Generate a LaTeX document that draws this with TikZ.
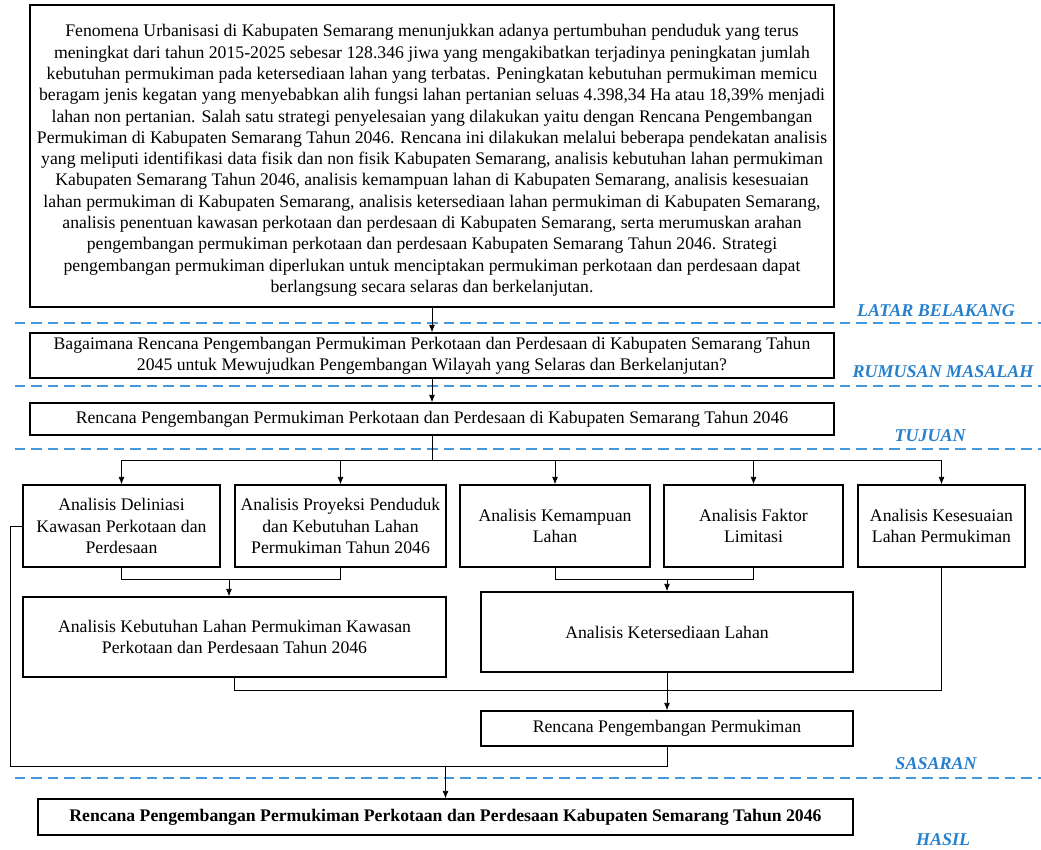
\documentclass[tikz,border=0pt]{standalone}
\usepackage{fontspec}
\setmainfont{Liberation Serif}
\usetikzlibrary{arrows.meta}
\definecolor{sepblue}{RGB}{70,152,222}
\definecolor{labelblue}{RGB}{38,128,205}
\def\px{0.6667pt}
\tikzset{
  box/.style={draw, line width=0.9pt, align=center, inner sep=0pt,
    font=\fontsize{11.8}{14.2}\selectfont},
  conn/.style={line width=0.6pt},
  arr/.style={conn, -{Latex[length=5pt,width=4pt]}},
  sepline/.style={sepblue, line width=1pt, dash pattern=on 7pt off 4pt},
  lbl/.style={text=labelblue, font=\fontsize{12}{14}\selectfont\bfseries\itshape}
}
\begin{document}
\begin{tikzpicture}[x=0.6667pt, y=-0.6667pt]
\useasboundingbox (0,0) rectangle (1041,849);
% boxes
\node[box, minimum width={804*\px}, minimum height={302*\px}] (latar) at (432,156) {%
\rule{0pt}{14pt}Fenomena Urbanisasi di Kabupaten Semarang menunjukkan adanya pertumbuhan penduduk yang terus\\
meningkat dari tahun 2015-2025 sebesar 128.346 jiwa yang mengakibatkan terjadinya peningkatan jumlah\\
kebutuhan permukiman pada ketersediaan lahan yang terbatas. Peningkatan kebutuhan permukiman memicu\\
beragam jenis kegatan yang menyebabkan alih fungsi lahan pertanian seluas 4.398,34 Ha atau 18,39\% menjadi\\
lahan non pertanian. Salah satu strategi penyelesaian yang dilakukan yaitu dengan Rencana Pengembangan\\
Permukiman di Kabupaten Semarang Tahun 2046. Rencana ini dilakukan melalui beberapa pendekatan analisis\\
yang meliputi identifikasi data fisik dan non fisik Kabupaten Semarang, analisis kebutuhan lahan permukiman\\
Kabupaten Semarang Tahun 2046, analisis kemampuan lahan di Kabupaten Semarang, analisis kesesuaian\\
lahan permukiman di Kabupaten Semarang, analisis ketersediaan lahan permukiman di Kabupaten Semarang,\\
analisis penentuan kawasan perkotaan dan perdesaan di Kabupaten Semarang, serta merumuskan arahan\\
pengembangan permukiman perkotaan dan perdesaan Kabupaten Semarang Tahun 2046. Strategi\\
pengembangan permukiman diperlukan untuk menciptakan permukiman perkotaan dan perdesaan dapat\\
berlangsung secara selaras dan berkelanjutan.};
\node[box, minimum width={804*\px}, minimum height={45*\px}] (rumusan) at (432,355.5) {%
Bagaimana Rencana Pengembangan Permukiman Perkotaan dan Perdesaan di Kabupaten Semarang Tahun\\
2045 untuk Mewujudkan Pengembangan Wilayah yang Selaras dan Berkelanjutan?};
\node[box, minimum width={804*\px}, minimum height={32*\px}] (tujuan) at (432,419) {%
Rencana Pengembangan Permukiman Perkotaan dan Perdesaan di Kabupaten Semarang Tahun 2046};
\node[box, minimum width={197*\px}, minimum height={82*\px}] (deliniasi) at (121.5,526) {%
Analisis Deliniasi\\Kawasan Perkotaan dan\\Perdesaan};
\node[box, minimum width={211*\px}, minimum height={82*\px}] (proyeksi) at (340.5,526) {%
Analisis Proyeksi Penduduk\\dan Kebutuhan Lahan\\Permukiman Tahun 2046};
\node[box, minimum width={190*\px}, minimum height={82*\px}] (kemampuan) at (555,526) {%
Analisis Kemampuan\\Lahan};
\node[box, minimum width={179*\px}, minimum height={82*\px}] (limitasi) at (753.5,526) {%
Analisis Faktor\\Limitasi};
\node[box, minimum width={167*\px}, minimum height={82*\px}] (kesesuaian) at (941.5,526) {%
Analisis Kesesuaian\\Lahan Permukiman};
\node[box, minimum width={423*\px}, minimum height={80*\px}] (kebutuhan) at (234.5,637) {%
Analisis Kebutuhan Lahan Permukiman Kawasan\\Perkotaan dan Perdesaan Tahun 2046};
\node[box, minimum width={372*\px}, minimum height={80*\px}] (ketersediaan) at (667,632) {%
Analisis Ketersediaan Lahan};
\node[box, minimum width={372*\px}, minimum height={35*\px}] (rencana) at (667,728.5) {%
Rencana Pengembangan Permukiman};
\node[box, minimum width={815*\px}, minimum height={36*\px}] (hasil) at (445.5,817) {%
\bfseries Rencana Pengembangan Permukiman Perkotaan dan Perdesaan Kabupaten Semarang Tahun 2046};
% separators
\foreach \y in {323,386,449,778}
  \draw[sepline] (15,\y) -- (1041,\y);
\node[lbl] (tlatar) at (936,311) {LATAR BELAKANG};
\node[lbl] (trumusan) at (943,372) {RUMUSAN MASALAH};
\node[lbl] (ttujuan) at (930,436) {TUJUAN};
\node[lbl] (tsasaran) at (936,764) {SASARAN};
\node[lbl] (thasil) at (943,840) {HASIL};
% connectors
\draw[arr] (latar) -- (rumusan);
\draw[arr] (rumusan) -- (tujuan);
\coordinate (split) at (432,460);
\draw[conn] (tujuan.south) -- (split);
\draw[conn] (deliniasi.north |- split) -- (kesesuaian.north |- split);
\foreach \n in {deliniasi,proyeksi,kemampuan,limitasi,kesesuaian}
  \draw[arr] (\n.north |- split) -- (\n.north);
\coordinate (joinA) at (229,579);
\draw[conn] (deliniasi.south) -- (deliniasi.south |- joinA) -- (proyeksi.south |- joinA) -- (proyeksi.south);
\draw[arr] (joinA) -- (joinA |- kebutuhan.north);
\coordinate (joinB) at (667,579);
\draw[conn] (kemampuan.south) -- (kemampuan.south |- joinB) -- (limitasi.south |- joinB) -- (limitasi.south);
\draw[arr] (joinB) -- (ketersediaan.north);
\coordinate (joinC) at (667,690);
\draw[conn] (kebutuhan.south) -- (kebutuhan.south |- joinC) -- (joinC);
\draw[conn] (kesesuaian.south) -- (kesesuaian.south |- joinC) -- (joinC);
\draw[arr] (ketersediaan.south) -- (rencana.north);
\coordinate (joinD) at (667,766);
\coordinate (back) at (10,766);
\draw[conn] (rencana.south) -- (joinD) -- (back) -- (back |- deliniasi.west) -- (deliniasi.west);
\draw[arr] (hasil.north |- joinD) -- (hasil.north);
\end{tikzpicture}
\end{document}
